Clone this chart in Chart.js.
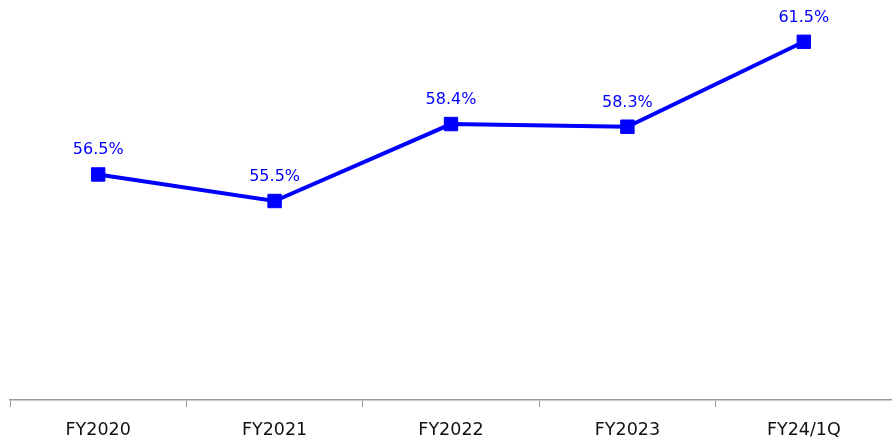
<!DOCTYPE html>
<html>
<head>
<meta charset="utf-8">
<script src="https://cdn.jsdelivr.net/npm/chart.js@4.4.0/dist/chart.umd.min.js"></script>
<style>
html,body{margin:0;padding:0;background:#fff;}
#wrap{width:892px;height:442px;position:relative;}
</style>
</head>
<body>
<div id="wrap"><canvas id="c"></canvas></div>
<script>
const categories = ['FY2020', 'FY2021', 'FY2022', 'FY2023', 'FY24/1Q'];
const ratioValues = [56.5, 55.5, 58.4, 58.3, 61.5];

const labelPlugin = {
  id: 'valueLabels',
  afterDatasetsDraw(chart) {
    const ctx = chart.ctx;
    const meta = chart.getDatasetMeta(0);
    ctx.save();
    ctx.fillStyle = '#0000FF';
    ctx.font = '16px "DejaVu Sans", Verdana, sans-serif';
    ctx.textAlign = 'center';
    ctx.textBaseline = 'alphabetic';
    meta.data.forEach((pt, i) => {
      ctx.fillText(ratioValues[i].toFixed(1) + '%', pt.x, pt.y - 20);
    });
    ctx.restore();
  }
};

new Chart(document.getElementById('c'), {
  type: 'line',
  data: {
    labels: categories,
    datasets: [{
      data: ratioValues,
      borderColor: '#0000FF',
      backgroundColor: '#0000FF',
      borderWidth: 4,
      pointStyle: 'rect',
      pointRadius: 9.5,
      pointBorderWidth: 1,
      pointHoverRadius: 9.5,
      tension: 0,
      fill: false,
      clip: false
    }]
  },
  options: {
    responsive: true,
    maintainAspectRatio: false,
    animation: false,
    events: [],
    layout: { autoPadding: false, padding: { left: 10, right: 0, top: 2, bottom: 3 } },
    plugins: { legend: { display: false }, tooltip: { enabled: false } },
    scales: {
      x: {
        offset: true,
        afterFit(scale) { scale.height = 39; },
        grid: {
          offset: true,
          drawOnChartArea: false,
          drawTicks: true,
          tickLength: 7,
          color: '#999999'
        },
        border: { display: true, color: '#999999', width: 1.5 },
        ticks: {
          color: '#111111',
          padding: 13,
          font: { family: '"DejaVu Sans", Verdana, sans-serif', size: 17.5 },
          maxRotation: 0,
          autoSkip: false
        }
      },
      y: {
        display: false,
        min: 48,
        max: 63
      }
    }
  },
  plugins: [labelPlugin]
});
</script>
</body>
</html>
